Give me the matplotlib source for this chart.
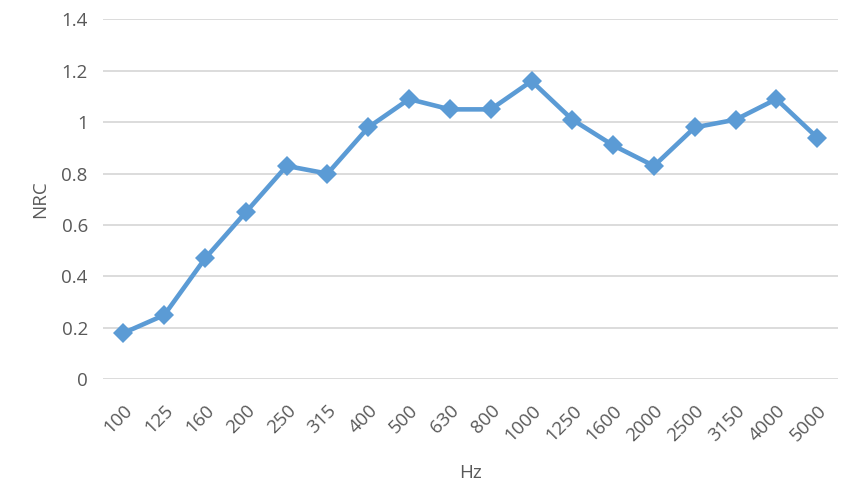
import matplotlib
matplotlib.use("Agg")
import matplotlib.pyplot as plt

categories = ["100", "125", "160", "200", "250", "315", "400", "500", "630", "800",
              "1000", "1250", "1600", "2000", "2500", "3150", "4000", "5000"]
nrc = [0.18, 0.25, 0.47, 0.65, 0.83, 0.80, 0.98, 1.09, 1.05, 1.05,
       1.16, 1.01, 0.91, 0.83, 0.98, 1.01, 1.09, 0.94]
yticks = [0, 0.2, 0.4, 0.6, 0.8, 1.0, 1.2, 1.4]
ytick_labels = ["0", "0.2", "0.4", "0.6", "0.8", "1", "1.2", "1.4"]

plt.rcParams['font.family'] = ['Open Sans', 'DejaVu Sans']
text_color = "#595959"

fig = plt.figure(figsize=(8.6, 4.97), dpi=100)
ax = fig.add_axes([0.1198, 0.2368, 0.974 - 0.1198, 0.961 - 0.2368])

x = list(range(len(categories)))
ax.plot(x, nrc, color="#5B9BD5", linewidth=3.3, marker="D", markersize=10,
        markeredgewidth=0, solid_joinstyle="miter", zorder=3)

ax.set_xlim(-0.5, len(categories) - 0.5)
ax.set_ylim(0, 1.4)
ax.set_yticks(yticks)
ax.set_yticklabels(ytick_labels)
ax.set_xticks(x)
ax.set_xticklabels(categories, rotation=45, ha="right", rotation_mode="anchor")

ax.grid(axis="y", color="#D9D9D9", linewidth=1.3)
ax.set_axisbelow(True)
for s in ax.spines.values():
    s.set_visible(False)
ax.tick_params(axis="both", length=0, labelsize=13.5, colors=text_color)
ax.tick_params(axis="y", pad=11)
ax.tick_params(axis="x", pad=16)

ax.set_ylabel("NRC", fontsize=13.5, color=text_color, labelpad=9)
ax.set_xlabel("Hz", fontsize=13.5, color=text_color, labelpad=14)

fig.savefig("out.png", dpi=100, facecolor="white")
